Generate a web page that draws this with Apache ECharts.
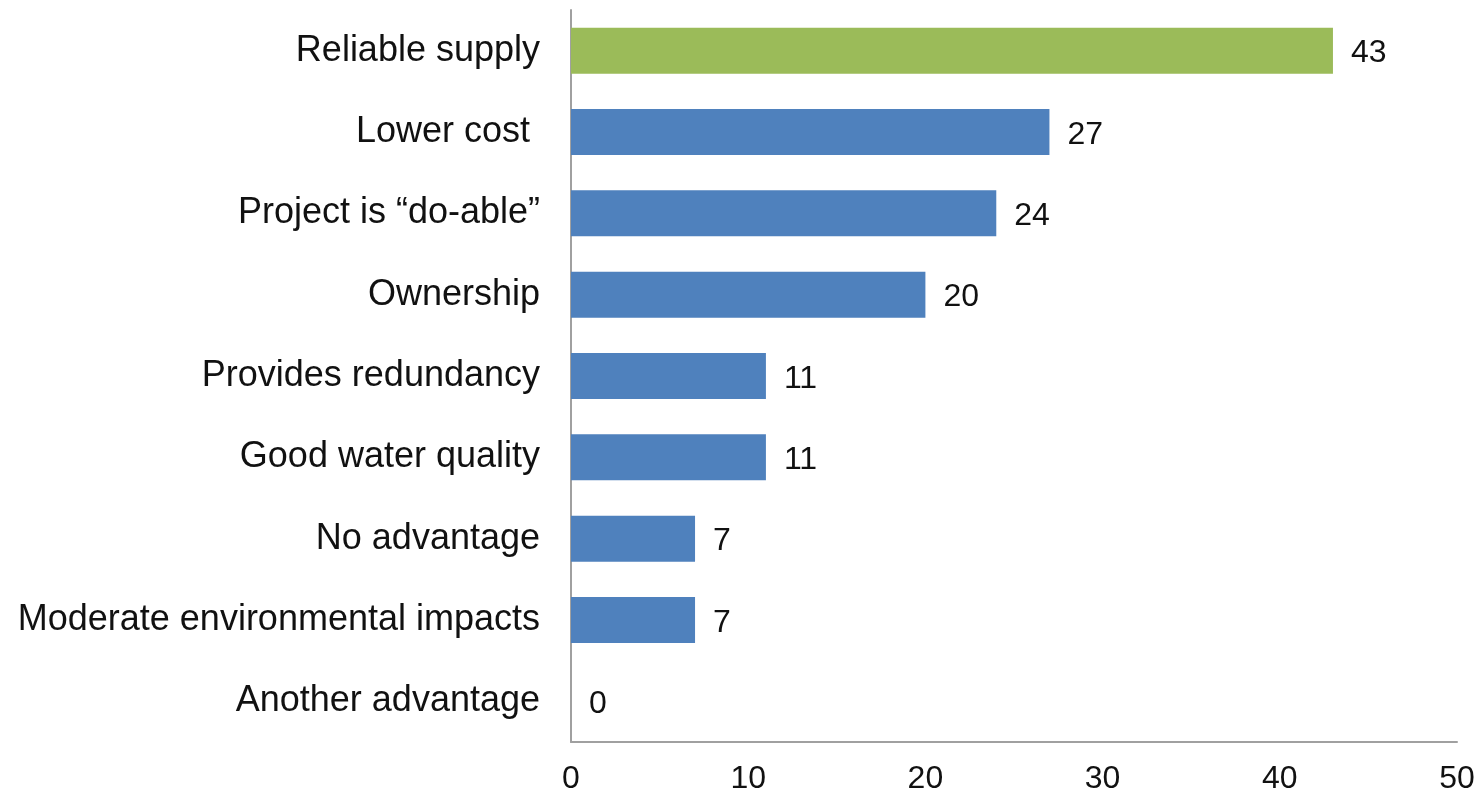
<!DOCTYPE html>
<html>
<head>
<meta charset="utf-8">
<script src="https://cdn.jsdelivr.net/npm/echarts@6/dist/echarts.min.js"></script>
<style>
  html, body { margin: 0; padding: 0; background: #fff; }
  #chart { width: 1482px; height: 799px; }
</style>
</head>
<body>
<div id="chart"></div>
<script>
// categories from top to bottom
var categories = ['Reliable supply', 'Lower cost ', 'Project is \u201cdo-able\u201d', 'Ownership',
  'Provides redundancy', 'Good water quality', 'No advantage', 'Moderate environmental impacts', 'Another advantage'];
var values = [43, 27, 24, 20, 11, 11, 7, 7, 0];
var xTicks = [0, 10, 20, 30, 40, 50];

var chart = echarts.init(document.getElementById('chart'));

var option = {
  animation: false,
  grid: { left: 571, right: 25, top: 10, bottom: 57 },
  xAxis: {
    type: 'value',
    min: xTicks[0],
    max: xTicks[xTicks.length - 1],
    interval: 10,
    axisLine: { show: true, lineStyle: { color: '#a0a0a0', width: 2 } },
    axisTick: { show: false },
    splitLine: { show: false },
    axisLabel: { color: '#111', fontSize: 32, fontFamily: 'Liberation Sans', margin: 21 }
  },
  yAxis: {
    type: 'category',
    inverse: true,
    data: categories,
    axisLine: { show: true, lineStyle: { color: '#a0a0a0', width: 2 } },
    axisTick: { show: false },
    axisLabel: { color: '#111', fontSize: 36, fontFamily: 'Liberation Sans', margin: 31, padding: [6, 0, 0, 0] }
  },
  series: [{
    type: 'bar',
    data: values.map(function (v, i) {
      return { value: v, itemStyle: { color: i === 0 ? '#9bbb59' : '#4f81bd' } };
    }),
    barWidth: 46,
    label: {
      show: true,
      position: 'right',
      distance: 18,
      offset: [0, 3],
      color: '#111',
      fontSize: 32,
      fontFamily: 'Liberation Sans'
    }
  }]
};

chart.setOption(option);
</script>
</body>
</html>
